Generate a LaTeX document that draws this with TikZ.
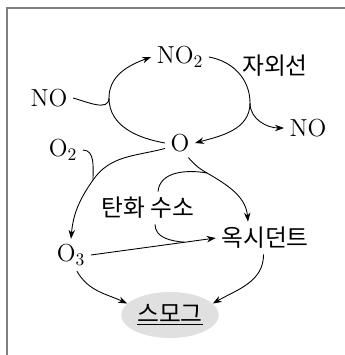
\documentclass[tikz,border=0pt]{standalone}
\usepackage{fontspec}
\newfontfamily\kr{Noto Sans CJK KR}
\usetikzlibrary{arrows.meta,shapes.geometric}
\colorlet{Smog}{black!12}
\colorlet{Frame}{black!50}

\begin{document}
\begin{tikzpicture}[
    every node/.style={font={\fontsize{14}{16}\selectfont}, inner sep=3pt},
    kor/.style={font={\kr\fontsize{13.5}{16}\selectfont}},
    smog/.style={kor, ellipse, fill=Smog, minimum width=1.78cm, minimum height=0.92cm, inner sep=1pt},
    flow/.style={-{Stealth[length=1.8mm,width=1.3mm]}, line width=0.5pt},
    link/.style={line width=0.5pt}
    ]
    \useasboundingbox (0,0) rectangle (6.9,-7.1);
    \draw[Frame, line width=1.1pt] (0.14,-7.1) |- (6.9,-0.16);

    \node (NOtwo) at (3.6,-1.14) {NO$_2$};
    \node [kor] (uv) at (5.5,-1.32) {자외선};
    \node (NOa) at (0.98,-1.96) {NO};
    \node (NOb) at (6.16,-2.56) {NO};
    \node (O) at (3.6,-2.86) {O};
    \node (Otwo) at (1.26,-3.0) {O$_2$};
    \node [kor] (HC) at (2.96,-4.16) {탄화 수소};
    \node (Othree) at (1.42,-5.1) {O$_3$};
    \node [kor] (Ox) at (5.3,-4.76) {옥시던트};
    \node [smog] (smog) at (3.4,-6.3) {\underline{스모그}};

    \coordinate (jL) at (2.18,-1.96);
    \coordinate (jR) at (5.0,-2.06);
    \coordinate (jC) at (1.86,-3.6);
    \coordinate (jD) at (4.14,-3.46);
    \coordinate (oxin) at ([xshift=-3.4mm]Ox.north);
    \coordinate (hcup) at ([xshift=2mm]HC.north);
    \coordinate (hcdown) at ([xshift=1.4mm]HC.south);
    \path (Othree.east) -- (Ox.west) coordinate[pos=0.75] (jE);

    \draw[flow] (O.west) to[out=170,in=-90] (jL) to[out=90,in=200] (NOtwo.west);
    \draw[link] (NOa.east) to[out=-15,in=-90] (jL);
    \draw[flow] (NOtwo.east) to[out=-10,in=90] (jR) to[out=-90,in=15] (O.east);
    \draw[flow] (jR) to[out=-90,in=180] (NOb.west);
    \draw[flow] (O.200) to[out=195,in=55] (jC) to[out=235,in=85] (Othree.north);
    \draw[link] (Otwo.east) to[out=0,in=90] (jC);
    \draw[flow] (O.-60) to[out=-50,in=150] (jD) to[out=-30,in=95] (oxin);
    \draw[link] (hcup) to[out=85,in=170] (jD);
    \draw[flow] (Othree.east) -- (Ox.west);
    \draw[link] (hcdown) to[out=-90,in=175] (jE);
    \draw[flow] (Othree.-70) to[out=-60,in=155] (smog.165);
    \draw[flow] (Ox.-95) to[out=-90,in=30] (smog.15);
\end{tikzpicture}
\end{document}
